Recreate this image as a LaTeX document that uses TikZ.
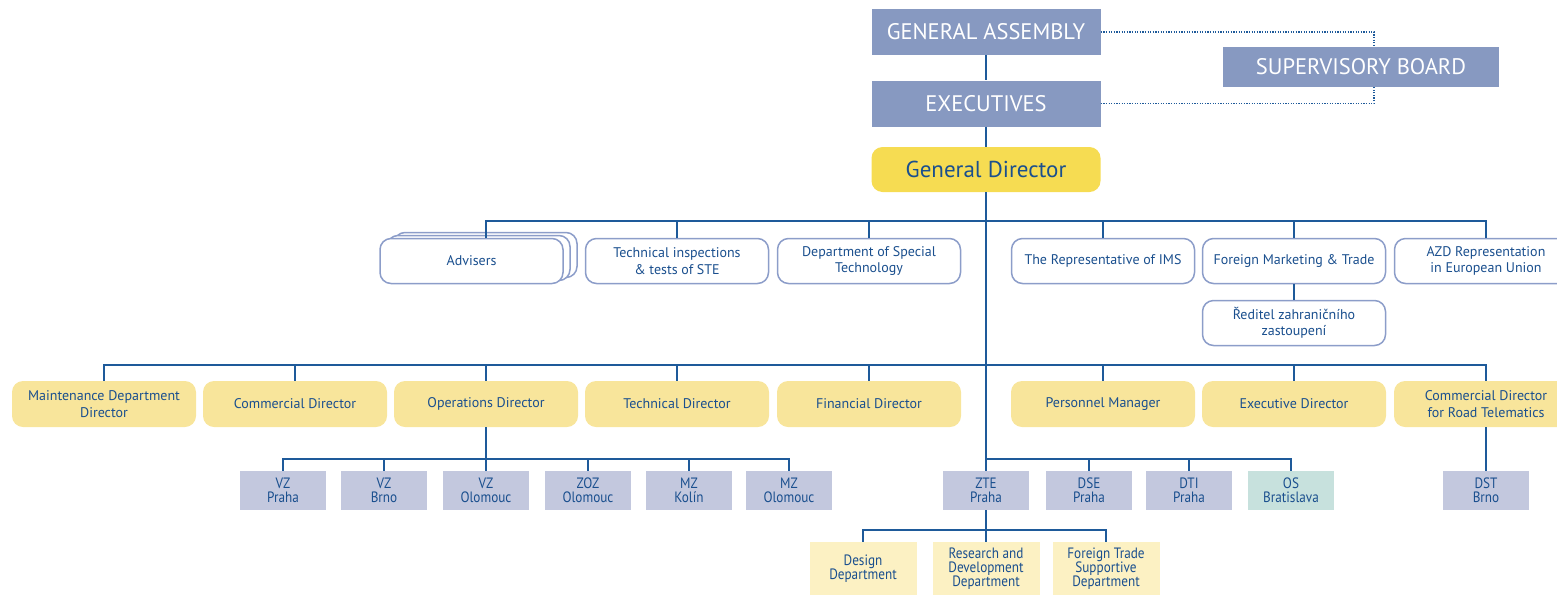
\documentclass[tikz,border=0pt]{standalone}
\usepackage{fontspec}
\setmainfont{PT Sans}
\newfontfamily\condfont[FakeStretch=0.88]{PT Sans}
\definecolor{topc}{HTML}{8799C1}
\definecolor{gdc}{HTML}{F6DC52}
\definecolor{txt}{HTML}{1A4F8E}
\definecolor{bordc}{HTML}{8C9DC9}
\definecolor{ybc}{HTML}{F8E59B}
\definecolor{sbc}{HTML}{C3C8DE}
\definecolor{osc}{HTML}{C7E1DD}
\definecolor{dbc}{HTML}{FCF1C3}
\definecolor{linec}{HTML}{1E5A9A}
\tikzset{
  topbox/.style={fill=topc, text=white, minimum width=229, minimum height=46, inner sep=0, font=\fontsize{22.5}{25}\selectfont},
  gdbox/.style={fill=gdc, text=txt, rounded corners=11, minimum width=229, minimum height=45, inner sep=0, font=\fontsize{23}{26}\selectfont},
  wbox/.style={draw=bordc, line width=1.5, fill=white, text=txt, rounded corners=11, minimum width=183, minimum height=45, inner sep=0, align=center, font=\fontsize{14}{16.5}\selectfont},
  ybox/.style={fill=ybc, text=txt, rounded corners=11, minimum width=184, minimum height=46, inner sep=0, align=center, font=\fontsize{14}{16.5}\selectfont},
  sbox/.style={fill=sbc, text=txt, minimum width=86, minimum height=39, inner sep=0, align=center, font=\condfont\fontsize{15}{14}\selectfont},
  dbox/.style={fill=dbc, text=txt, minimum width=107, minimum height=53, inner sep=0, align=center, font=\condfont\fontsize{15}{14}\selectfont},
  conn/.style={draw=linec, line width=2},
  dotline/.style={draw=linec, line width=1.3, dash pattern=on 1.3 off 1.3},
}
\begin{document}
\begin{tikzpicture}[x=1pt,y=-1pt]
\useasboundingbox (0,0) rectangle (1557,595);
\clip (0,0) rectangle (1557,595);
% top
\node[topbox] (ga) at (986,32) {GENERAL ASSEMBLY};
\node[topbox] (ex) at (986,103.5) {EXECUTIVES};
\node[topbox, minimum width=276, minimum height=40] (sb) at (1361,67) {SUPERVISORY BOARD};
\node[gdbox] (gd) at (986,169.5) {General Director};
% row 1
\node[wbox] (adv3) at (485.5,255) {};
\node[wbox] (adv2) at (478.5,258) {};
\node[wbox] (adv) at (471.5,261) {Advisers};
\node[wbox] (tis) at (677,261) {Technical inspections\\\& tests of STE};
\node[wbox] (dst) at (869,261) {Department of Special\\Technology};
\node[wbox] (ims) at (1103,261) {The Representative of IMS};
\node[wbox] (fmt) at (1294,261) {Foreign Marketing \& Trade};
\node[wbox] (azd) at (1486,261) {AZD Representation\\in European Union};
\node[wbox] (red) at (1294,323) {Ředitel zahraničního\\zastoupení};
% row 2
\node[ybox] (mdd) at (104,404) {Maintenance Department\\Director};
\node[ybox] (cd) at (295,404) {Commercial Director};
\node[ybox] (od) at (486,404) {Operations Director};
\node[ybox] (td) at (677,404) {Technical Director};
\node[ybox] (fd) at (869,404) {Financial Director};
\node[ybox] (pm) at (1103,404) {Personnel Manager};
\node[ybox] (ed) at (1294,404) {Executive Director};
\node[ybox] (cdrt) at (1486,404) {Commercial Director\\for Road Telematics};
% row 3
\node[sbox] (vzp) at (283,490.5) {VZ\\Praha};
\node[sbox] (vzb) at (384,490.5) {VZ\\Brno};
\node[sbox] (vzo) at (486,490.5) {VZ\\Olomouc};
\node[sbox] (zoz) at (588,490.5) {ZOZ\\Olomouc};
\node[sbox] (mzk) at (689,490.5) {MZ\\Kolín};
\node[sbox] (mzo) at (789,490.5) {MZ\\Olomouc};
\node[sbox] (zte) at (986,490.5) {ZTE\\Praha};
\node[sbox] (dse) at (1089,490.5) {DSE\\Praha};
\node[sbox] (dti) at (1189,490.5) {DTI\\Praha};
\node[sbox, fill=osc] (os) at (1291,490.5) {OS\\Bratislava};
\node[sbox] (dstb) at (1486,490.5) {DST\\Brno};
% row 4
\node[dbox] (des) at (863,568.5) {Design\\Department};
\node[dbox] (rd) at (986,568.5) {Research and\\Development\\Department};
\node[dbox] (fts) at (1106,568.5) {Foreign Trade\\Supportive\\Department};
% bus coordinates
\coordinate (b1) at (0,221);
\coordinate (b2) at (0,365);
\coordinate (b3) at (0,459);
\coordinate (b4) at (0,530);
\coordinate (advtop) at (486,238);
% connectors
\draw[conn] (ga) -- (ex);
\draw[conn] (ex) -- (gd);
\draw[conn] (gd.south) -- (zte.north);
\draw[dotline] (ga.east) -| ([xshift=13]sb.north);
\draw[dotline] (ex.east) -| ([xshift=13]sb.south);
% bus 1
\draw[conn] (advtop) -- (advtop |- b1) -- (azd.north |- b1) -- (azd.north);
\foreach \n in {tis,dst,ims,fmt} {\draw[conn] (\n.north) -- (\n.north |- b1);}
\draw[conn] (fmt.south) -- (red.north);
% bus 2
\draw[conn] (mdd.north) -- (mdd.north |- b2) -- (cdrt.north |- b2) -- (cdrt.north);
\foreach \n in {cd,od,td,fd,pm,ed} {\draw[conn] (\n.north) -- (\n.north |- b2);}
% bus 3
\draw[conn] (od.south) -- (vzo.north);
\draw[conn] (vzp.north) -- (vzp.north |- b3) -- (mzo.north |- b3) -- (mzo.north);
\foreach \n in {vzb,zoz,mzk} {\draw[conn] (\n.north) -- (\n.north |- b3);}
\draw[conn] (zte.north |- b3) -- (os.north |- b3) -- (os.north);
\foreach \n in {dse,dti} {\draw[conn] (\n.north) -- (\n.north |- b3);}
\draw[conn] (cdrt.south) -- (dstb.north);
% bus 4
\draw[conn] (zte.south) -- (rd.north);
\draw[conn] (des.north) -- (des.north |- b4) -- (fts.north |- b4) -- (fts.north);
\end{tikzpicture}
\end{document}
